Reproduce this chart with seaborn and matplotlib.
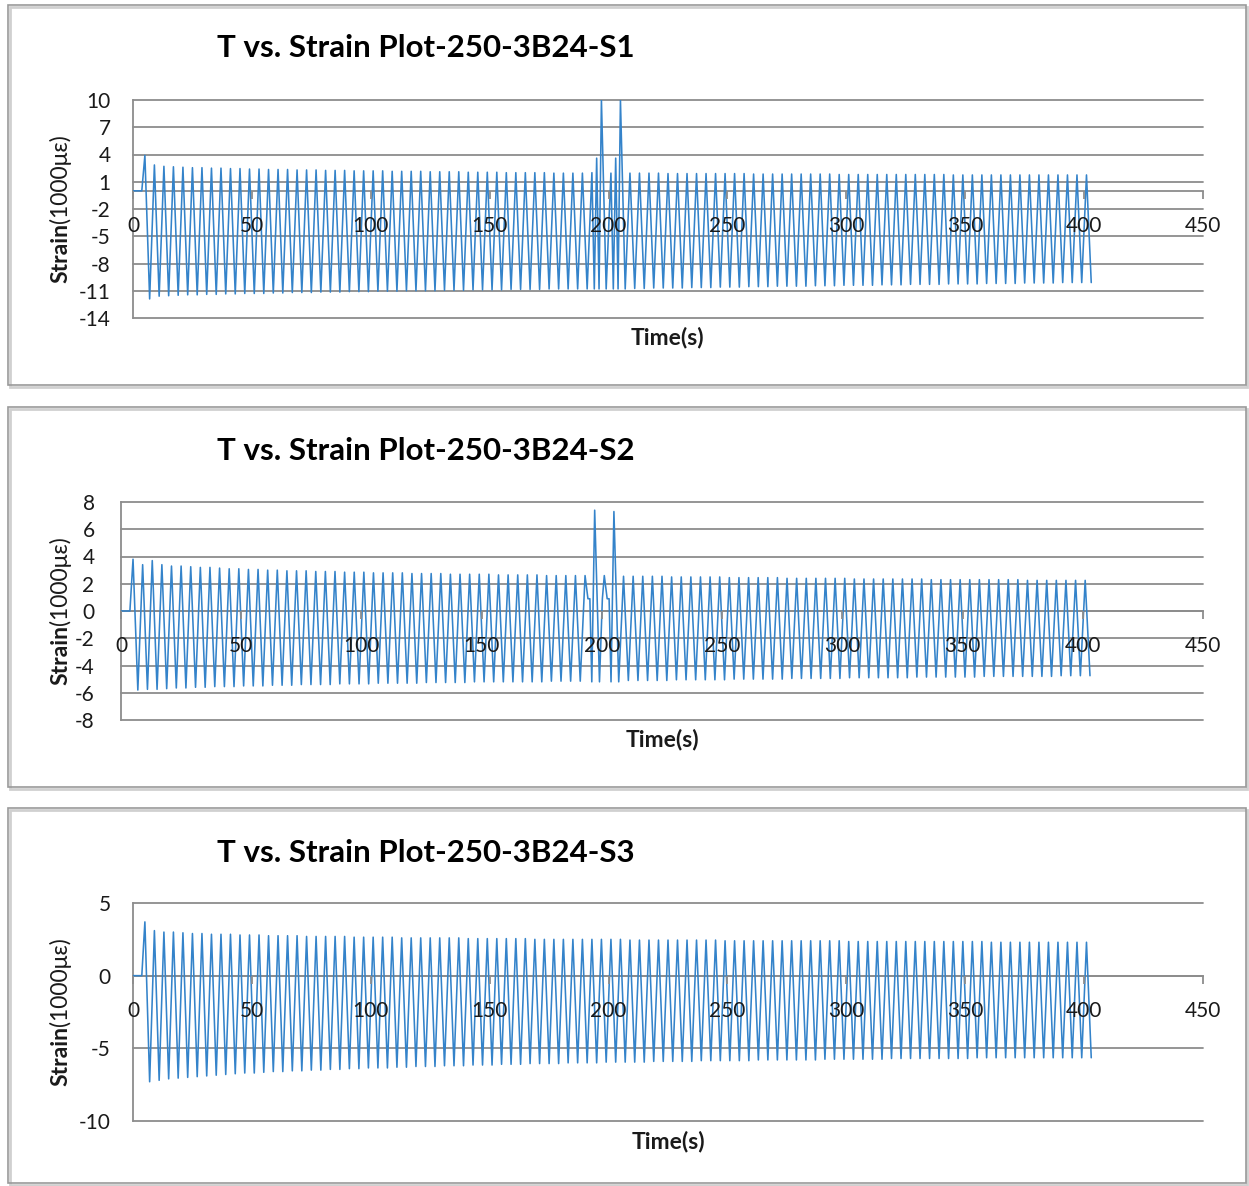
import matplotlib
matplotlib.use('Agg')
import matplotlib.pyplot as plt
import seaborn as sns
import pandas as pd
from matplotlib.patches import Rectangle

# ---------------- data ----------------
titles = ['T vs. Strain Plot-250-3B24-S1', 'T vs. Strain Plot-250-3B24-S2', 'T vs. Strain Plot-250-3B24-S3']
x_label = 'Time(s)'
x_ticks = [0, 50, 100, 150, 200, 250, 300, 350, 400, 450]
y_ticks_s1 = [-14, -11, -8, -5, -2, 1, 4, 7, 10]
y_ticks_s2 = [-8, -6, -4, -2, 0, 2, 4, 6, 8]
y_ticks_s3 = [-10, -5, 0, 5]

# sampling of the loading cycles (s)
start_time = [0.0, 3.7]          # flat (zero) segment before loading
first_peak_time = 5.0
cycle_period = 4.0

s1_peaks = [3.9, 2.85, 2.7, 2.65, 2.6, 2.55, 2.55, 2.5, 2.5, 2.45,
            2.45, 2.4, 2.4, 2.35, 2.35, 2.35, 2.3, 2.3, 2.3, 2.25,
            2.25, 2.25, 2.2, 2.2, 2.2, 2.2, 2.15, 2.15, 2.15, 2.15,
            2.1, 2.1, 2.1, 2.1, 2.05, 2.05, 2.05, 2.05, 2.0, 2.0,
            2.0, 2.0, 2.0, 1.95, 1.95, 1.95, 1.95, 2.0, 2.0, 1.95,
            1.95, 1.95, 1.95, 1.95, 1.95, 1.9, 1.9, 1.9, 1.9, 1.9,
            1.9, 1.9, 1.9, 1.9, 1.85, 1.85, 1.85, 1.85, 1.85, 1.85,
            1.85, 1.85, 1.85, 1.8, 1.8, 1.8, 1.8, 1.8, 1.8, 1.8,
            1.8, 1.8, 1.8, 1.8, 1.8, 1.75, 1.75, 1.75, 1.75, 1.75,
            1.75, 1.75, 1.75, 1.75, 1.75, 1.75, 1.75, 1.75, 1.75, 1.75]
s1_troughs = [-11.9, -11.6, -11.55, -11.5, -11.45, -11.45, -11.4, -11.4, -11.35, -11.35,
              -11.3, -11.3, -11.3, -11.25, -11.25, -11.2, -11.2, -11.2, -11.15, -11.15,
              -11.15, -11.1, -11.1, -11.1, -11.05, -11.05, -11.05, -11.0, -11.0, -11.0,
              -11.0, -10.95, -10.95, -10.95, -10.9, -10.9, -10.9, -10.9, -10.85, -10.85,
              -10.85, -10.85, -10.8, -10.8, -10.8, -10.8, -10.8, -10.8, -10.8, -10.75,
              -10.75, -10.75, -10.75, -10.7, -10.7, -10.7, -10.7, -10.65, -10.65, -10.65,
              -10.6, -10.6, -10.6, -10.55, -10.55, -10.55, -10.5, -10.5, -10.5, -10.5,
              -10.45, -10.45, -10.45, -10.4, -10.4, -10.4, -10.4, -10.35, -10.35, -10.35,
              -10.3, -10.3, -10.3, -10.3, -10.25, -10.25, -10.25, -10.25, -10.2, -10.2,
              -10.2, -10.2, -10.15, -10.15, -10.15, -10.15, -10.1, -10.1, -10.1, -10.1]
s1_anom_t = [193, 194, 195, 196, 197, 199, 201, 202, 203, 204, 205, 207]
s1_anom_v = [2.0, -10.8, 3.6, -10.8, 10.0, -10.8, 1.95, -10.8, 3.6, -10.8, 10.0, -10.8]

s2_peaks = [3.8, 3.4, 3.7, 3.4, 3.3, 3.3, 3.25, 3.2, 3.2, 3.15,
            3.1, 3.1, 3.05, 3.05, 3.0, 3.0, 2.95, 2.95, 2.95, 2.9,
            2.9, 2.9, 2.85, 2.85, 2.85, 2.8, 2.8, 2.8, 2.8, 2.75,
            2.75, 2.75, 2.75, 2.7, 2.7, 2.7, 2.7, 2.7, 2.65, 2.65,
            2.65, 2.65, 2.65, 2.6, 2.6, 2.6, 2.6, 2.6, 2.6, 2.6,
            2.6, 2.55, 2.55, 2.55, 2.55, 2.55, 2.5, 2.5, 2.5, 2.5,
            2.5, 2.5, 2.45, 2.45, 2.45, 2.45, 2.45, 2.45, 2.4, 2.4,
            2.4, 2.4, 2.4, 2.4, 2.4, 2.35, 2.35, 2.35, 2.35, 2.35,
            2.35, 2.35, 2.35, 2.3, 2.3, 2.3, 2.3, 2.3, 2.3, 2.3,
            2.3, 2.3, 2.3, 2.25, 2.25, 2.25, 2.25, 2.25, 2.25, 2.25]
s2_troughs = [-5.8, -5.75, -5.75, -5.7, -5.65, -5.65, -5.6, -5.6, -5.55, -5.55,
              -5.55, -5.5, -5.5, -5.5, -5.45, -5.45, -5.45, -5.4, -5.4, -5.4,
              -5.4, -5.35, -5.35, -5.35, -5.35, -5.3, -5.3, -5.3, -5.3, -5.3,
              -5.25, -5.25, -5.25, -5.25, -5.25, -5.2, -5.2, -5.2, -5.2, -5.2,
              -5.2, -5.2, -5.2, -5.15, -5.15, -5.15, -5.15, -5.15, -5.15, -5.15,
              -5.1, -5.1, -5.1, -5.1, -5.1, -5.1, -5.05, -5.05, -5.05, -5.05,
              -5.05, -5.05, -5.0, -5.0, -5.0, -5.0, -5.0, -5.0, -4.95, -4.95,
              -4.95, -4.95, -4.95, -4.95, -4.9, -4.9, -4.9, -4.9, -4.9, -4.9,
              -4.9, -4.85, -4.85, -4.85, -4.85, -4.85, -4.85, -4.85, -4.8, -4.8,
              -4.8, -4.8, -4.8, -4.8, -4.8, -4.8, -4.75, -4.75, -4.75, -4.75]
s2_anom_t = [193, 194.2, 195, 195.8, 197, 199, 200.2, 201, 202.2, 203, 203.8, 205, 207]
s2_anom_v = [2.6, 0.9, 0.9, -5.2, 7.4, -5.2, 0.9, 2.6, 0.9, 0.9, -5.2, 7.3, -5.2]

s3_peaks = [3.7, 3.1, 3.0, 3.0, 2.95, 2.9, 2.9, 2.85, 2.85, 2.85,
            2.8, 2.8, 2.8, 2.75, 2.75, 2.75, 2.75, 2.7, 2.7, 2.7,
            2.7, 2.7, 2.65, 2.65, 2.65, 2.65, 2.65, 2.6, 2.6, 2.6,
            2.6, 2.6, 2.6, 2.6, 2.55, 2.55, 2.55, 2.55, 2.55, 2.55,
            2.55, 2.5, 2.5, 2.5, 2.5, 2.5, 2.5, 2.5, 2.5, 2.5,
            2.5, 2.45, 2.45, 2.45, 2.45, 2.45, 2.45, 2.45, 2.45, 2.45,
            2.45, 2.4, 2.4, 2.4, 2.4, 2.4, 2.4, 2.4, 2.4, 2.4,
            2.4, 2.4, 2.4, 2.4, 2.35, 2.35, 2.35, 2.35, 2.35, 2.35,
            2.35, 2.35, 2.35, 2.35, 2.35, 2.35, 2.35, 2.35, 2.35, 2.3,
            2.3, 2.3, 2.3, 2.3, 2.3, 2.3, 2.3, 2.3, 2.3, 2.3]
s3_troughs = [-7.3, -7.2, -7.1, -7.05, -7.0, -6.95, -6.9, -6.85, -6.8, -6.75,
              -6.7, -6.7, -6.65, -6.6, -6.6, -6.55, -6.55, -6.5, -6.5, -6.45,
              -6.45, -6.4, -6.4, -6.35, -6.35, -6.35, -6.3, -6.3, -6.25, -6.25,
              -6.25, -6.2, -6.2, -6.2, -6.15, -6.15, -6.15, -6.1, -6.1, -6.1,
              -6.05, -6.05, -6.05, -6.05, -6.0, -6.0, -6.0, -6.0, -5.95, -5.95,
              -5.95, -5.95, -5.95, -5.9, -5.9, -5.9, -5.9, -5.9, -5.85, -5.85,
              -5.85, -5.85, -5.85, -5.85, -5.8, -5.8, -5.8, -5.8, -5.8, -5.8,
              -5.8, -5.75, -5.75, -5.75, -5.75, -5.75, -5.75, -5.75, -5.7, -5.7,
              -5.7, -5.7, -5.7, -5.7, -5.7, -5.7, -5.7, -5.65, -5.65, -5.65,
              -5.65, -5.65, -5.65, -5.65, -5.65, -5.65, -5.65, -5.65, -5.65, -5.65]
s3_anom_t = []
s3_anom_v = []


def build_series(peaks, troughs, anom_t, anom_v):
    t = list(start_time)
    v = [0.0 for _ in start_time]
    lo = min(anom_t) if anom_t else None
    hi = max(anom_t) if anom_t else None
    for k, (p, q) in enumerate(zip(peaks, troughs)):
        tp = first_peak_time + cycle_period * k
        tq = tp + cycle_period / 2
        for tt, vv in ((tp, p), (tq, q)):
            if lo is not None and lo <= tt <= hi:
                continue
            t.append(tt)
            v.append(vv)
    t += list(anom_t)
    v += list(anom_v)
    df = pd.DataFrame({'Time': t, 'Strain': v}).sort_values('Time')
    return df


series = [build_series(s1_peaks, s1_troughs, s1_anom_t, s1_anom_v),
          build_series(s2_peaks, s2_troughs, s2_anom_t, s2_anom_v),
          build_series(s3_peaks, s3_troughs, s3_anom_t, s3_anom_v)]
y_ticks = [y_ticks_s1, y_ticks_s2, y_ticks_s3]

# ---------------- styling ----------------
sns.set_style('white')
FONT = ['Lato', 'DejaVu Sans']
plt.rcParams['font.family'] = FONT

W, H = 1249, 1186
fig = plt.figure(figsize=(W / 100, H / 100), dpi=100)
fig.patch.set_facecolor('white')

LINE = '#3483CA'
GRID = '#8c8c8c'
TXT = '#1a1a1a'

# panel geometry in pixels
panels = [
    (5, 385, 133, 100, 318, 48, 667, 338, 209),
    (407, 787, 121, 502, 720, 451, 662, 740, 611),
    (808, 1183, 133, 903, 1121, 853, 668, 1142, 1012),
]
ax_right = 1203
TICK_FS = 15
LABEL_FS = 16.5

def fx(px):
    return px / W

def fy(py):
    return 1 - py / H

renderer = fig.canvas.get_renderer()

for i, (btop, bbot, axl, axt, axb, ty, xlx, xly, ylc) in enumerate(panels):
    fig.add_artist(Rectangle((fx(10), fy(bbot + 2)), fx(1247 - 10), (bbot - btop) / H,
                             transform=fig.transFigure, fill=False,
                             edgecolor='#d0d0d0', lw=2.0, zorder=0))
    fig.add_artist(Rectangle((fx(8), fy(bbot)), fx(1246 - 8), (bbot - btop) / H,
                             transform=fig.transFigure, fill=False,
                             edgecolor='#9a9a9a', lw=1.2, zorder=0))

    ax = fig.add_axes([fx(axl), fy(axb), fx(ax_right - axl), (axb - axt) / H])
    df = series[i]
    sns.lineplot(data=df, x='Time', y='Strain', ax=ax, color=LINE, linewidth=1.15,
                 estimator=None, sort=False, zorder=2)

    yt = y_ticks[i]
    ax.set_xlim(0, 450)
    ax.set_ylim(min(yt), max(yt))
    ax.set_yticks(yt)
    ax.set_yticklabels([str(v) for v in yt])
    ax.set_xticks(x_ticks)
    ax.set_xticklabels([str(v) for v in x_ticks])

    ax.grid(axis='y', color=GRID, lw=1.3)
    ax.grid(axis='x', visible=False)
    for gl in ax.get_ygridlines():
        gl.set_clip_on(False)
        gl.set_zorder(1)

    for s in ('top', 'right'):
        ax.spines[s].set_visible(False)
    ax.spines['left'].set_color(GRID)
    ax.spines['left'].set_linewidth(1.3)
    ax.spines['left'].set_zorder(1)
    ax.spines['bottom'].set_position(('data', 0))
    ax.spines['bottom'].set_color(GRID)
    ax.spines['bottom'].set_linewidth(1.3)
    ax.spines['bottom'].set_zorder(1)

    ax.tick_params(axis='x', direction='out', length=6, width=1.3, color=GRID,
                   labelsize=TICK_FS, labelcolor=TXT, pad=12, bottom=True)
    ax.tick_params(axis='y', length=0, labelsize=TICK_FS, labelcolor=TXT,
                   pad=(16 if i != 1 else 19))
    for lab in ax.get_xticklabels() + ax.get_yticklabels():
        lab.set_family(FONT)
    ax.xaxis.set_zorder(3)
    ax.set_xlabel('')
    ax.set_ylabel('')
    ax.patch.set_alpha(0)

    fig.text(fx(217), fy(ty), titles[i], ha='left', va='center', fontsize=22.5,
             fontweight='bold', color='black', family=FONT)
    fig.text(fx(xlx), fy(xly), x_label, ha='center', va='center', fontsize=LABEL_FS,
             fontweight='bold', color=TXT, family=FONT)
    t1 = fig.text(fx(67), 0, 'Strain', rotation=90, rotation_mode='anchor',
                  ha='left', va='baseline', fontsize=LABEL_FS, fontweight='bold',
                  color=TXT, family=FONT)
    t2 = fig.text(fx(67), 0, '(1000με)', rotation=90, rotation_mode='anchor',
                  ha='left', va='baseline', fontsize=LABEL_FS, color=TXT, family=FONT)
    h1 = t1.get_window_extent(renderer).height
    h2 = t2.get_window_extent(renderer).height
    y0 = (H - ylc) - (h1 + h2) / 2
    t1.set_y(y0 / H)
    t2.set_y((y0 + h1) / H)

fig.savefig('out.png', dpi=100, facecolor='white')
